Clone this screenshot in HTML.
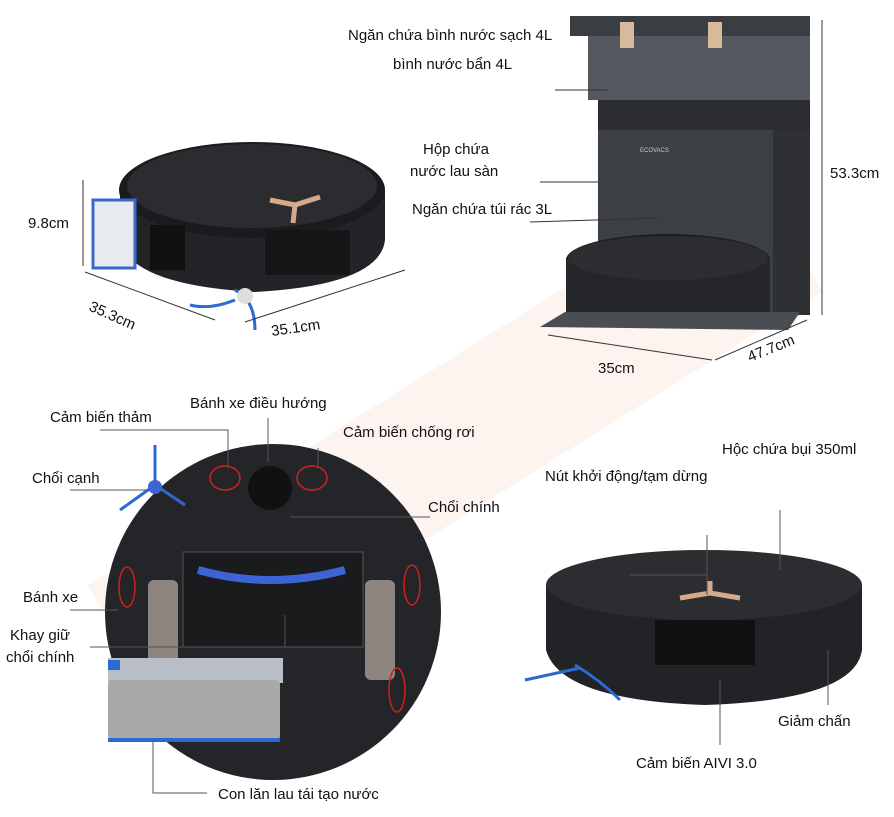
<!DOCTYPE html>
<html><head><meta charset="utf-8"><style>
body{margin:0;background:#fff;}
svg text{font-family:"Liberation Sans",sans-serif;font-size:15px;fill:#111;}
</style></head><body>
<svg width="894" height="812" viewBox="0 0 894 812" xmlns="http://www.w3.org/2000/svg">
<rect width="894" height="812" fill="#fff"/>
<g transform="rotate(-32 450 430)" opacity="0.07">
<rect x="60" y="370" width="780" height="140" fill="#e06a2a"/>
</g>
<!-- top-left robot -->
<path d="M120 190 L120 240 Q130 285 255 292 Q380 285 385 240 L385 190 Z" fill="#232427"/>
<ellipse cx="252" cy="190" rx="133" ry="48" fill="#1a1b1d"/>
<ellipse cx="252" cy="186" rx="125" ry="42" fill="#2b2c2f"/>
<path d="M270 200 l25 5 l25 -8 M295 205 l-2 18" stroke="#d6a98a" stroke-width="5" fill="none"/>
<rect x="93" y="200" width="42" height="68" fill="#e7ebef" stroke="#3b67c8" stroke-width="3"/>
<rect x="150" y="225" width="35" height="45" fill="#111"/>
<rect x="265" y="230" width="85" height="45" fill="#151618"/>
<path d="M235 290 Q255 300 255 330 M235 300 Q210 310 190 305" stroke="#2d6ad0" stroke-width="3" fill="none"/>
<circle cx="245" cy="296" r="8" fill="#ddd"/>
<line x1="83" y1="180" x2="83" y2="266" stroke="#333"/>
<text x="28" y="228">9.8cm</text>
<line x1="85" y1="272" x2="215" y2="320" stroke="#333"/>
<text x="88" y="310" transform="rotate(24 88 310)">35.3cm</text>
<line x1="245" y1="322" x2="405" y2="270" stroke="#333"/>
<text x="272" y="336" transform="rotate(-8 272 336)">35.1cm</text>
<!-- station -->
<rect x="588" y="20" width="222" height="80" fill="#55595f"/>
<rect x="570" y="16" width="240" height="20" fill="#3a3d41"/>
<rect x="620" y="22" width="14" height="26" fill="#d8b99c"/>
<rect x="708" y="22" width="14" height="26" fill="#d8b99c"/>
<rect x="598" y="100" width="212" height="215" fill="#3c3f44"/>
<rect x="773" y="100" width="37" height="215" fill="#2e3034"/>
<rect x="598" y="100" width="212" height="30" fill="#2a2c30"/>
<text x="640" y="152" style="font-size:6px;fill:#ccc">ECOVACS</text>
<ellipse cx="668" cy="260" rx="102" ry="26" fill="#1e1f22"/>
<rect x="566" y="258" width="204" height="55" fill="#25262a"/>
<ellipse cx="668" cy="258" rx="100" ry="22" fill="#2c2d31"/>
<path d="M540 327 L565 312 L800 312 L788 330 Z" fill="#4a4d52"/>
<line x1="822" y1="20" x2="822" y2="315" stroke="#333"/>
<text x="830" y="178">53.3cm</text>
<line x1="548" y1="335" x2="712" y2="360" stroke="#333"/>
<text x="598" y="373">35cm</text>
<line x1="715" y1="360" x2="807" y2="320" stroke="#333"/>
<text x="750" y="362" transform="rotate(-22 750 362)">47.7cm</text>
<text x="348" y="40">Ngăn chứa bình nước sạch 4L</text>
<text x="393" y="69">bình nước bẩn 4L</text>
<line x1="555" y1="90" x2="607" y2="90" stroke="#333"/>
<text x="423" y="154">Hộp chứa</text>
<text x="410" y="176">nước lau sàn</text>
<line x1="540" y1="182" x2="598" y2="182" stroke="#333"/>
<text x="412" y="214">Ngăn chứa túi rác 3L</text>
<line x1="530" y1="222" x2="660" y2="218" stroke="#333"/>
<!-- bottom-left robot -->
<circle cx="273" cy="612" r="168" fill="#242528"/>
<rect x="183" y="552" width="180" height="95" fill="#1a1b1d" stroke="#555"/>
<path d="M198 570 Q270 590 345 570" stroke="#3c64d6" stroke-width="8" fill="none"/>
<rect x="148" y="580" width="30" height="100" rx="6" fill="#8d8580"/>
<rect x="365" y="580" width="30" height="100" rx="6" fill="#8d8580"/>
<circle cx="270" cy="488" r="22" fill="#111"/>
<ellipse cx="225" cy="478" rx="15" ry="12" fill="none" stroke="#d02020" stroke-width="1.5"/>
<ellipse cx="312" cy="478" rx="15" ry="12" fill="none" stroke="#d02020" stroke-width="1.5"/>
<ellipse cx="127" cy="587" rx="8" ry="20" fill="none" stroke="#d02020" stroke-width="1.5"/>
<ellipse cx="412" cy="585" rx="8" ry="20" fill="none" stroke="#d02020" stroke-width="1.5"/>
<ellipse cx="397" cy="690" rx="8" ry="22" fill="none" stroke="#d02020" stroke-width="1.5"/>
<rect x="108" y="658" width="175" height="25" fill="#b8bec6"/>
<rect x="108" y="660" width="12" height="10" fill="#2d6ad0"/>
<rect x="108" y="680" width="172" height="60" rx="4" fill="#a9a9a9"/>
<rect x="108" y="738" width="172" height="4" fill="#2d6ad0"/>
<path d="M155 445 L155 485 M155 485 L120 510 M155 485 L185 505" stroke="#2d6ad0" stroke-width="3"/>
<circle cx="155" cy="487" r="7" fill="#3c64d6"/>
<g stroke="#555" fill="none">
<polyline points="100,430 228,430 228,468"/>
<line x1="268" y1="418" x2="268" y2="462"/>
<polyline points="318,448 318,468"/>
<line x1="70" y1="490" x2="148" y2="490"/>
<polyline points="430,517 290,517"/>
<line x1="70" y1="610" x2="118" y2="610"/>
<polyline points="90,647 285,647 285,615"/>
<polyline points="153,742 153,793 207,793"/>
</g>
<text x="50" y="422">Cảm biến thảm</text>
<text x="190" y="408">Bánh xe điều hướng</text>
<text x="343" y="437">Cảm biến chống rơi</text>
<text x="32" y="483">Chổi cạnh</text>
<text x="428" y="512">Chổi chính</text>
<text x="23" y="602">Bánh xe</text>
<text x="10" y="640">Khay giữ</text>
<text x="6" y="662">chổi chính</text>
<text x="218" y="799">Con lăn lau tái tạo nước</text>
<!-- bottom-right robot -->
<path d="M546 585 L546 650 Q560 700 705 705 Q855 700 862 650 L862 585 Z" fill="#222326"/>
<ellipse cx="704" cy="585" rx="158" ry="35" fill="#2c2d30"/>
<path d="M680 598 l30 -5 l30 5 M710 593 l0 -12" stroke="#d6a98a" stroke-width="5" fill="none"/>
<rect x="655" y="620" width="100" height="45" fill="#111"/>
<path d="M575 665 Q600 680 620 700 M580 668 L525 680" stroke="#2d6ad0" stroke-width="3" fill="none"/>
<g stroke="#555" fill="none">
<polyline points="630,575 707,575 707,535"/>
<line x1="707" y1="535" x2="707" y2="595"/>
<line x1="780" y1="510" x2="780" y2="570"/>
<line x1="828" y1="650" x2="828" y2="705"/>
<line x1="720" y1="680" x2="720" y2="745"/>
</g>
<text x="722" y="454">Hộc chứa bụi 350ml</text>
<text x="545" y="481">Nút khởi động/tạm dừng</text>
<text x="778" y="726">Giảm chấn</text>
<text x="636" y="768">Cảm biến AIVI 3.0</text>
</svg>
</body></html>
